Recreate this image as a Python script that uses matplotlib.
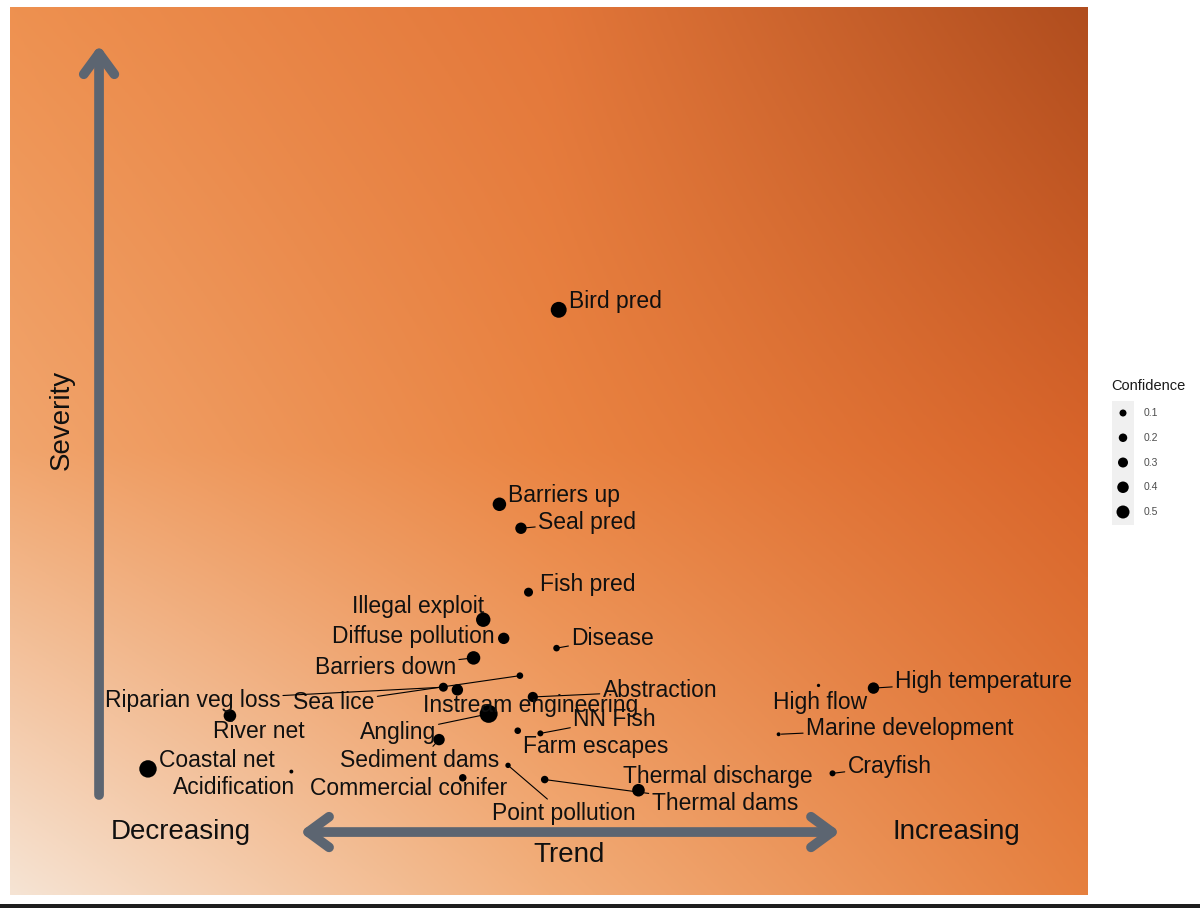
import numpy as np
import matplotlib
matplotlib.use("Agg")
import matplotlib.pyplot as plt
from matplotlib.colors import to_rgb
from matplotlib.patches import Rectangle

plt.rcParams['font.family'] = ['Liberation Sans', 'DejaVu Sans']

# Pressures: trend (x, 0-100), severity (y, 0-100), confidence (point size)
labels = ['Bird pred', 'Barriers up', 'Seal pred', 'Fish pred', 'Illegal exploit',
          'Diffuse pollution', 'Disease', 'Barriers down', 'Sea lice', 'Riparian veg loss',
          'Instream engineering', 'Abstraction', 'Angling', 'Farm escapes', 'NN Fish',
          'River net', 'Sediment dams', 'Coastal net', 'Acidification', 'Point pollution',
          'Commercial conifer', 'Thermal dams', 'Thermal discharge', 'High flow',
          'High temperature', 'Marine development', 'Crayfish']
trend = [50.9, 45.4, 47.4, 48.1, 43.9,
         45.8, 50.7, 43.0, 47.3, 40.2,
         41.5, 48.5, 44.4, 47.1, 49.2,
         20.4, 39.8, 12.8, 26.1, 46.2,
         42.0, 49.6, 58.3, 75.0,
         80.1, 71.3, 76.3]
severity = [65.9, 44.0, 41.3, 34.1, 31.0,
            28.9, 27.8, 26.7, 24.7, 23.4,
            23.1, 22.3, 20.4, 18.5, 18.2,
            20.2, 17.5, 14.2, 13.9, 14.6,
            13.2, 13.0, 11.8, 23.6,
            23.3, 18.1, 13.7]
confidence = [0.43, 0.35, 0.28, 0.20, 0.38,
              0.28, 0.12, 0.35, 0.12, 0.20,
              0.28, 0.24, 0.50, 0.12, 0.10,
              0.32, 0.28, 0.48, 0.03, 0.08,
              0.15, 0.15, 0.32, 0.01,
              0.28, 0.03, 0.10]
legend_levels = [0.1, 0.2, 0.3, 0.4, 0.5]

# label placement (pixel offsets of label centre from point: dx right, dy up)
label_offsets = {
    'Bird pred': (57, 8), 'Barriers up': (65, 9), 'Seal pred': (66, 6),
    'Fish pred': (59, 8), 'Illegal exploit': (-65, 13), 'Diffuse pollution': (-90, 2),
    'Disease': (56, 10), 'Barriers down': (-88, -10), 'Sea lice': (-186, -27),
    'Riparian veg loss': (-251, -13), 'Instream engineering': (73, -16),
    'Abstraction': (127, 6), 'Angling': (-91, -19), 'Farm escapes': (78, -16),
    'NN Fish': (74, 14), 'River net': (29, -16), 'Sediment dams': (-19, -21),
    'Coastal net': (69, 8), 'Acidification': (-57, -16), 'Point pollution': (56, -48),
    'Commercial conifer': (-54, -11), 'Thermal dams': (180, -24),
    'Thermal discharge': (79, 14), 'High flow': (2, -17), 'High temperature': (110, 7),
    'Marine development': (131, 6), 'Crayfish': (57, 7),
}
with_segment = {'Seal pred', 'Disease', 'Barriers down', 'Sea lice', 'Riparian veg loss',
                'Abstraction', 'Angling', 'NN Fish', 'Sediment dams', 'Point pollution',
                'Thermal dams', 'High temperature', 'Marine development', 'Crayfish'}

PX = 0.72  # points per pixel at dpi 100

fig = plt.figure(figsize=(12, 9.08), dpi=100)
ax = fig.add_axes([10 / 1200, 13 / 908, 1078 / 1200, 888 / 908])
ax.set_xlim(0, 100)
ax.set_ylim(0, 100)
ax.axis('off')

# background gradient (3x3 grid of colours, bilinear)
grid = np.array([
    [to_rgb('#f6e4d4'), to_rgb('#f2ae7a'), to_rgb('#e6803f')],   # bottom row
    [to_rgb('#f1a56d'), to_rgb('#ea8442'), to_rgb('#d8642a')],   # middle row
    [to_rgb('#ee9150'), to_rgb('#e3773a'), to_rgb('#b04d1e')],   # top row
])
n = 300
u = np.linspace(0, 1, n)
knots = [0, 0.5, 1]
rows = np.stack([np.stack([np.interp(u, knots, grid[r, :, c]) for c in range(3)], -1)
                 for r in range(3)])           # (3, n, 3)
img = np.empty((n, n, 3))
for c in range(3):
    for j in range(n):
        img[:, j, c] = np.interp(u, knots, rows[:, j, c])
ax.imshow(img, extent=(0, 100, 0, 100), origin='lower', aspect='auto', zorder=0)

# points
sizes = [(PX * (3 + 30 * c)) ** 2 for c in confidence]
ax.scatter(trend, severity, s=sizes, color='black', zorder=3, linewidths=0)

for lab, x, y in zip(labels, trend, severity):
    dx, dy = label_offsets[lab]
    props = None
    if lab in with_segment:
        props = dict(arrowstyle='-', color='black', lw=0.8, shrinkA=0, shrinkB=2)
    ax.annotate(lab, (x, y), xytext=(dx * PX, dy * PX), textcoords='offset points',
                ha='center', va='center', fontsize=16.5, color='#101010',
                arrowprops=props, zorder=4)

# axis arrows
arrow_col = '#5c6571'
ax.annotate('', xy=(0.0826, 0.957), xytext=(0.0826, 0.1126), xycoords='axes fraction',
            arrowprops=dict(arrowstyle='->,head_length=0.75,head_width=0.55',
                            lw=7, color=arrow_col, mutation_scale=20,
                            shrinkA=0, shrinkB=0))
ax.annotate('', xy=(0.770, 0.0709), xytext=(0.269, 0.0709), xycoords='axes fraction',
            arrowprops=dict(arrowstyle='<->,head_length=0.75,head_width=0.55',
                            lw=7, color=arrow_col, mutation_scale=20,
                            shrinkA=0, shrinkB=0))

ax.text(0.048, 0.535, 'Severity', transform=ax.transAxes, rotation=90,
        ha='center', va='center', fontsize=20, color='#101010')
ax.text(0.1586, 0.0709, 'Decreasing', transform=ax.transAxes,
        ha='center', va='center', fontsize=20, color='#101010')
ax.text(0.878, 0.0709, 'Increasing', transform=ax.transAxes,
        ha='center', va='center', fontsize=20, color='#101010')
ax.text(0.5186, 0.045, 'Trend', transform=ax.transAxes,
        ha='center', va='center', fontsize=20, color='#101010')

# legend drawn in a small axes on the right (pixel units)
lax = fig.add_axes([1100 / 1200, 374 / 908, 100 / 1200, 160 / 908])
lax.set_xlim(1100, 1200)
lax.set_ylim(534, 374)
lax.axis('off')
lax.add_patch(Rectangle((1112, 401), 22, 124, color='#f0f0f0', lw=0))
lax.text(1111, 386, 'Confidence', fontsize=10.5, ha='left', va='center', color='#1a1a1a')
ys = np.linspace(413, 512, len(legend_levels))
lax.scatter([1123] * len(legend_levels), ys,
            s=[(PX * (5.5 + 15 * c)) ** 2 for c in legend_levels], color='black', lw=0)
for yy, lv in zip(ys, legend_levels):
    lax.text(1144, yy, f'{lv:.1f}', fontsize=7.5, ha='left', va='center', color='#4d4d4d')

# thin dark strip along the bottom edge
fig.add_artist(Rectangle((0, 0), 1, 4 / 908, transform=fig.transFigure,
                         color='#1e1e1e', lw=0))

plt.savefig('out.png', dpi=100)
